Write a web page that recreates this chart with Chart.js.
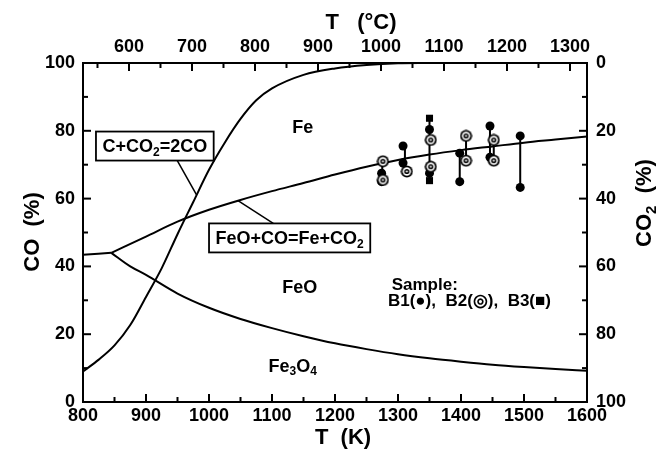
<!DOCTYPE html>
<html>
<head>
<meta charset="utf-8">
<script src="https://cdn.jsdelivr.net/npm/chart.js@4.4.1/dist/chart.umd.min.js"></script>
<style>
  html, body { margin: 0; padding: 0; background: #fff; }
</style>
</head>
<body>
<canvas id="chart" width="659" height="452"></canvas>
<script>
// C + CO2 = 2CO (Boudouard curve)
const boudT  = [800, 825, 850, 875, 900, 925, 950, 975, 1000, 1025, 1050, 1075, 1100, 1150, 1200, 1250, 1300, 1350];
const boudCO = [9, 12.5, 16.7, 22.7, 31, 39.5, 49.5, 59, 68.5, 76.5, 83.5, 89, 92.5, 96.5, 98.4, 99.4, 99.9, 100];

// FeO + CO = Fe + CO2
const feoT  = [845, 900, 950, 1000, 1050, 1100, 1150, 1200, 1250, 1300, 1350, 1400, 1450, 1500, 1550, 1600];
const feoCO = [44, 48.8, 53.2, 56.7, 59.6, 62.2, 64.6, 67.1, 69.4, 71.4, 73, 74.3, 75.4, 76.5, 77.4, 78.3];

// Fe3O4 / Fe (below the triple point)
const magT  = [800, 845];
const magCO = [43.4, 44];

// Fe3O4 / FeO
const wusT  = [845, 875, 900, 950, 1000, 1050, 1100, 1150, 1200, 1250, 1300, 1350, 1400, 1450, 1500, 1550, 1600];
const wusCO = [44, 40, 37.5, 32, 27.8, 24.5, 21.8, 19.4, 17.3, 15.6, 14.1, 12.9, 11.9, 11.0, 10.3, 9.7, 9.2];

// samples
const b1T  = [1274, 1274, 1308, 1308, 1350, 1350, 1398, 1398, 1446, 1446, 1494, 1494];
const b1CO = [67.5, 65, 75.5, 70.5, 80.4, 67.5, 73.4, 65, 81.4, 72.2, 78.5, 63.3];
const b2T  = [1276, 1276, 1314, 1352, 1352, 1408, 1408, 1452, 1452];
const b2CO = [71, 65.5, 68, 77.3, 69.4, 78.5, 71.2, 77.3, 71.2];
const b3T  = [1350, 1350];
const b3CO = [83.7, 65.3];

// vertical bars joining the measurements of one run
const rangeT    = [1275, 1311, 1350, 1398, 1408, 1446, 1452, 1494];
const rangeLow  = [65, 68, 65.3, 65, 71.2, 72.2, 71.2, 63.3];
const rangeHigh = [71, 75.5, 83.7, 73.4, 78.5, 81.4, 77.3, 78.5];

// tick labels
const kTicks   = [800, 900, 1000, 1100, 1200, 1300, 1400, 1500, 1600];
const cTicks   = [600, 700, 800, 900, 1000, 1100, 1200, 1300];
const coTicks  = [0, 20, 40, 60, 80, 100];
const co2Ticks = [0, 20, 40, 60, 80, 100];

const FAMILY = '"Liberation Sans", Arial, Helvetica, sans-serif';

const pts = (xs, ys) => xs.map((x, i) => ({ x: x, y: ys[i] }));

// ring marker for B2
function makeRing() {
  const c = document.createElement('canvas');
  c.width = 13; c.height = 13;
  const g = c.getContext('2d');
  const circ = (r, col) => { g.beginPath(); g.arc(6.5, 6.5, r, 0, Math.PI * 2); g.fillStyle = col; g.fill(); };
  circ(6, '#000'); circ(4.2, '#fff'); circ(2.6, '#000'); circ(1.1, '#fff');
  return c;
}

function measureRich(ctx, parts, size, weight) {
  let total = 0;
  parts.forEach(([t, sub]) => {
    ctx.font = (weight || '') + ' ' + (sub ? Math.round(size * 0.68) : size) + 'px ' + FAMILY;
    total += ctx.measureText(t).width;
  });
  return total;
}

function drawRich(ctx, parts, x, y, size, align, weight) {
  const total = measureRich(ctx, parts, size, weight);
  let cx = align === 'center' ? x - total / 2 : x;
  ctx.textBaseline = 'middle';
  ctx.textAlign = 'left';
  ctx.fillStyle = '#000';
  parts.forEach(([t, sub]) => {
    ctx.font = (weight || '') + ' ' + (sub ? Math.round(size * 0.68) : size) + 'px ' + FAMILY;
    ctx.fillText(t, cx, sub ? y + size * 0.3 : y);
    cx += ctx.measureText(t).width;
  });
}

// small tick marks pointing into the plot, majors and minors
function drawInwardTicks(chart) {
  const { ctx, chartArea: a, scales } = chart;
  ctx.save();
  ctx.strokeStyle = '#000';
  ctx.lineWidth = 2;
  const line = (x1, y1, x2, y2) => { ctx.beginPath(); ctx.moveTo(x1, y1); ctx.lineTo(x2, y2); ctx.stroke(); };
  for (let v = 800; v <= 1600; v += 50) {
    const x = scales.x.getPixelForValue(v);
    line(x, a.bottom, x, a.bottom - (v % 100 === 0 ? 8 : 5));
  }
  for (let v = 550; v <= 1300; v += 50) {
    const x = scales.xTop.getPixelForValue(v);
    line(x, a.top, x, a.top + (v % 100 === 0 ? 8 : 5));
  }
  for (let v = 0; v <= 100; v += 10) {
    const yl = scales.y.getPixelForValue(v);
    line(a.left, yl, a.left + (v % 20 === 0 ? 8 : 5), yl);
    const yr = scales.yRight.getPixelForValue(v);
    line(a.right, yr, a.right - (v % 20 === 0 ? 8 : 5), yr);
  }
  ctx.restore();
}

const notes = {
  id: 'notes',
  afterDatasetsDraw(chart) {
    const { ctx, scales } = chart;
    const px = t => scales.x.getPixelForValue(t);
    const py = c => scales.y.getPixelForValue(c);

    drawInwardTicks(chart);
    ctx.save();

    // labelled boxes with leader lines
    const boxes = [
      { parts: [['C+CO', 0], ['2', 1], ['=2CO', 0]], t: 914, c: 75.5, from: [949, 71.4], to: [980, 61.2] },
      { parts: [['FeO+CO=Fe+CO', 0], ['2', 1]], t: 1128, c: 48.4, from: [1102, 52.7], to: [1046, 59.4] }
    ];
    boxes.forEach(b => {
      ctx.strokeStyle = '#000';
      ctx.lineWidth = 1.5;
      ctx.beginPath();
      ctx.moveTo(px(b.from[0]), py(b.from[1]));
      ctx.lineTo(px(b.to[0]), py(b.to[1]));
      ctx.stroke();
      const w = measureRich(ctx, b.parts, 18, 'bold') + 13;
      const h = 29;
      const cx = px(b.t), cy = py(b.c);
      ctx.fillStyle = '#fff';
      ctx.fillRect(cx - w / 2, cy - h / 2, w, h);
      ctx.lineWidth = 1.8;
      ctx.strokeRect(cx - w / 2, cy - h / 2, w, h);
      drawRich(ctx, b.parts, cx, cy + 1, 18, 'center', 'bold');
    });

    // phase fields
    drawRich(ctx, [['Fe', 0]], px(1149), py(80.8), 18, 'center', 'bold');
    drawRich(ctx, [['FeO', 0]], px(1144), py(33.5), 18, 'center', 'bold');
    drawRich(ctx, [['Fe', 0], ['3', 1], ['O', 0], ['4', 1]], px(1133), py(10.4), 18, 'center', 'bold');
    drawRich(ctx, [['Sample:', 0]], px(1290), py(34.5), 17, 'left', 'bold');
    drawRich(ctx, [['B1(\u25CF),  B2(\u25CE),  B3(\u25A0)', 0]], px(1284), py(29.8), 17, 'left', 'bold');

    // axis titles
    drawRich(ctx, [['T   (\u00B0C)', 0]], 361, 23, 22, 'center', 'bold');
    drawRich(ctx, [['T  (K)', 0]], 343, 438, 22, 'center', 'bold');
    ctx.save();
    ctx.translate(33, 232);
    ctx.rotate(-Math.PI / 2);
    drawRich(ctx, [['CO  (%)', 0]], 0, 0, 22, 'center', 'bold');
    ctx.restore();
    ctx.save();
    ctx.translate(645, 203);
    ctx.rotate(-Math.PI / 2);
    drawRich(ctx, [['CO', 0], ['2', 1], ['  (%)', 0]], 0, 0, 22, 'center', 'bold');
    ctx.restore();

    ctx.restore();
  }
};

const tickFont = { family: FAMILY, size: 18, weight: 'bold' };
const axisBase = {
  type: 'linear',
  grid: { display: false, drawTicks: false },
  border: { display: true, color: '#000', width: 2 },
  ticks: { color: '#000', font: tickFont, autoSkip: false, maxRotation: 0, callback: v => String(v) }
};

const curve = (xs, ys) => ({
  data: pts(xs, ys),
  showLine: true,
  borderColor: '#000',
  borderWidth: 2,
  pointRadius: 0,
  cubicInterpolationMode: 'monotone',
  order: 3
});

const rangeData = [];
rangeT.forEach((t, i) => {
  rangeData.push({ x: t, y: rangeLow[i] }, { x: t, y: rangeHigh[i] }, { x: t, y: null });
});

new Chart(document.getElementById('chart'), {
  type: 'scatter',
  data: {
    datasets: [
      { label: 'B1', data: pts(b1T, b1CO), pointStyle: 'circle', pointRadius: 4.5, backgroundColor: '#000', borderWidth: 0, order: 1 },
      { label: 'B2', data: pts(b2T, b2CO), pointStyle: makeRing(), pointRadius: 6, order: 0 },
      { label: 'B3', data: pts(b3T, b3CO), pointStyle: 'rect', pointRadius: 5, backgroundColor: '#000', borderWidth: 0, order: 1 },
      { label: 'ranges', data: rangeData, showLine: true, spanGaps: false, borderColor: '#000', borderWidth: 2, pointRadius: 0, order: 2 },
      Object.assign(curve(boudT, boudCO), { label: 'C+CO2=2CO' }),
      Object.assign(curve(feoT, feoCO), { label: 'FeO+CO=Fe+CO2' }),
      Object.assign(curve(magT, magCO), { label: 'Fe3O4/Fe' }),
      Object.assign(curve(wusT, wusCO), { label: 'Fe3O4/FeO' })
    ]
  },
  options: {
    responsive: false,
    animation: false,
    layout: { padding: 0 },
    plugins: { legend: { display: false }, tooltip: { enabled: false } },
    scales: {
      x: Object.assign({}, axisBase, {
        position: 'bottom', min: 800, max: 1600,
        ticks: Object.assign({}, axisBase.ticks, { padding: 3 }),
        afterBuildTicks: s => { s.ticks = kTicks.map(v => ({ value: v })); },
        afterFit: s => { s.height = 50; }
      }),
      xTop: Object.assign({}, axisBase, {
        position: 'top', min: 800 - 273, max: 1600 - 273,
        ticks: Object.assign({}, axisBase.ticks, { padding: 5 }),
        afterBuildTicks: s => { s.ticks = cTicks.map(v => ({ value: v })); },
        afterFit: s => { s.height = 63; }
      }),
      y: Object.assign({}, axisBase, {
        position: 'left', min: 0, max: 100,
        ticks: Object.assign({}, axisBase.ticks, { padding: 8 }),
        afterBuildTicks: s => { s.ticks = coTicks.map(v => ({ value: v })); },
        afterFit: s => { s.width = 83; }
      }),
      yRight: Object.assign({}, axisBase, {
        position: 'right', min: 0, max: 100, reverse: true,
        ticks: Object.assign({}, axisBase.ticks, { padding: 9 }),
        afterBuildTicks: s => { s.ticks = co2Ticks.map(v => ({ value: v })); },
        afterFit: s => { s.width = 72; }
      })
    }
  },
  plugins: [notes]
});
</script>
</body>
</html>
